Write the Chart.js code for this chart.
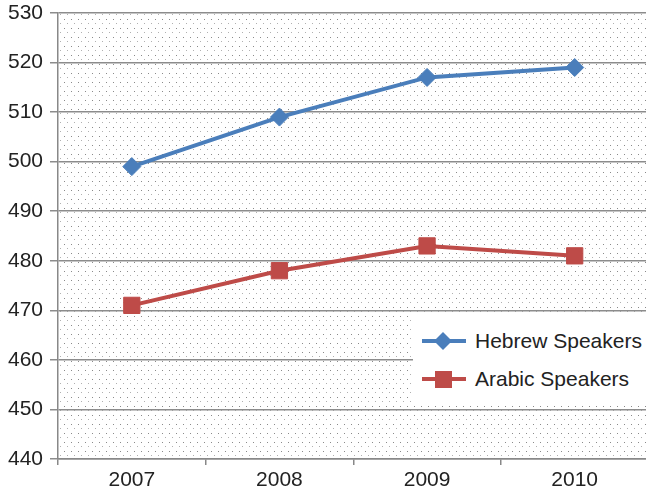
<!DOCTYPE html>
<html>
<head>
<meta charset="utf-8">
<script src="https://cdn.jsdelivr.net/npm/chart.js@4.4.1/dist/chart.umd.min.js"></script>
<style>
  html, body { margin: 0; padding: 0; background: #fff; overflow: hidden; }
  #wrap { position: relative; width: 661px; height: 490px; }
  #legend { position: absolute; left: 413px; top: 313px; width: 240px; height: 93px; background: #fff;
            font-family: "Liberation Sans", Arial, sans-serif; font-size: 21px; color: #222; }
  .row { position: absolute; left: 0; height: 30px; display: flex; align-items: center; }
  .row svg { margin-left: 8px; }
  .row span { margin-left: 8px; white-space: nowrap; }
</style>
</head>
<body>
<div id="wrap">
  <canvas id="c" width="661" height="490"></canvas>
  <div id="legend"></div>
</div>
<script>
const years = ["2007", "2008", "2009", "2010"];
const hebrewSpeakers = [499, 509, 517, 519];
const arabicSpeakers = [471, 478, 483, 481];
const seriesNames = ["Hebrew Speakers", "Arabic Speakers"];
const yMin = 440, yMax = 530, yStep = 10;

const BLUE = "#4A7EBB";
const RED = "#BE4B48";
const FONT = "'Liberation Sans', Arial, sans-serif";

function makePattern() {
  const p = document.createElement("canvas");
  p.width = 7; p.height = 9;
  const g = p.getContext("2d");
  g.fillStyle = "#fff";
  g.fillRect(0, 0, 7, 9);
  g.fillStyle = "#8a8a8a";
  g.fillRect(1, 1, 1, 1);
  g.fillStyle = "#b0b0b0";
  g.fillRect(4, 5, 1, 1);
  return p;
}

const bgPlugin = {
  id: "bgPattern",
  beforeDraw(chart) {
    const { ctx, chartArea: a } = chart;
    ctx.save();
    ctx.fillStyle = ctx.createPattern(makePattern(), "repeat");
    ctx.fillRect(a.left, a.top, a.right - a.left, a.bottom - a.top);
    ctx.restore();
  }
};

const chart = new Chart(document.getElementById("c"), {
  type: "line",
  data: {
    labels: years,
    datasets: [
      {
        label: seriesNames[0], data: hebrewSpeakers,
        borderColor: BLUE, backgroundColor: BLUE, borderWidth: 4,
        pointStyle: "rectRot", pointRadius: 9, pointBorderWidth: 1,
        pointBorderColor: BLUE, pointBackgroundColor: BLUE, tension: 0
      },
      {
        label: seriesNames[1], data: arabicSpeakers,
        borderColor: RED, backgroundColor: RED, borderWidth: 4,
        pointStyle: "rect", pointRadius: 11.5, pointBorderWidth: 1,
        pointBorderColor: RED, pointBackgroundColor: RED, tension: 0
      }
    ]
  },
  options: {
    responsive: false,
    animation: false,
    layout: { padding: { top: 13, right: 2, left: 0, bottom: 0 } },
    plugins: { legend: { display: false }, tooltip: { enabled: false } },
    scales: {
      x: {
        offset: true,
        grid: { offset: true, drawOnChartArea: false, drawTicks: true, tickLength: 6, color: "#888", lineWidth: 1.5 },
        border: { display: true, color: "#888", width: 1.5 },
        ticks: { color: "#222", font: { family: FONT, size: 21 }, padding: 3, maxRotation: 0 },
        afterFit(s) { s.height = 31; s.paddingLeft = 0; s.paddingRight = 0; }
      },
      y: {
        min: yMin, max: yMax,
        grid: { color: "#8c8c8c", lineWidth: 1.5, drawTicks: true, tickLength: 8 },
        border: { display: true, color: "#888", width: 1.5 },
        ticks: { stepSize: yStep, color: "#222", font: { family: FONT, size: 21 }, padding: 7 },
        afterFit(s) { s.width = 58; s.paddingTop = 0; s.paddingBottom = 0; }
      }
    }
  },
  plugins: [bgPlugin]
});

// HTML legend
const legend = document.getElementById("legend");
const items = [
  { name: seriesNames[0], color: BLUE, shape: "diamond", top: 13 },
  { name: seriesNames[1], color: RED, shape: "square", top: 51 }
];
items.forEach(it => {
  const row = document.createElement("div");
  row.className = "row";
  row.style.top = it.top + "px";
  const marker = it.shape === "diamond"
    ? `<polygon points="22,5 31,14 22,23 13,14" fill="${it.color}"/>`
    : `<rect x="14" y="6" width="17" height="17" fill="${it.color}"/>`;
  row.innerHTML = `<svg width="46" height="28"><line x1="1" y1="14" x2="45" y2="14" stroke="${it.color}" stroke-width="4"/>${marker}</svg><span>${it.name}</span>`;
  legend.appendChild(row);
});
</script>
</body>
</html>
